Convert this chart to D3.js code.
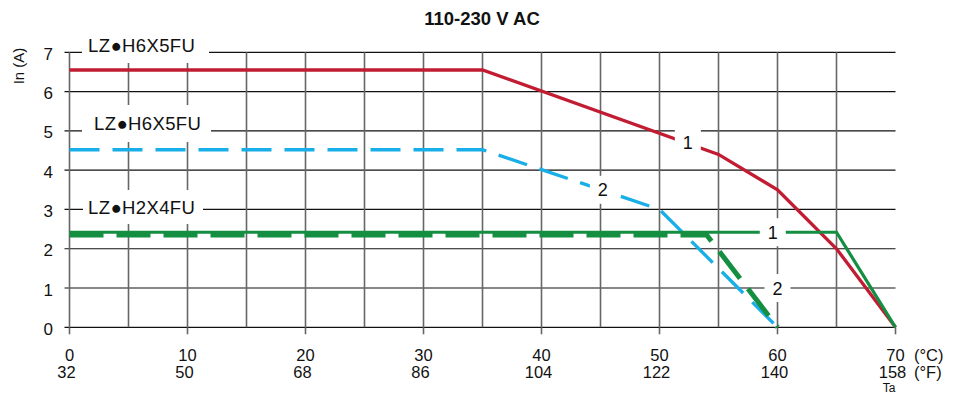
<!DOCTYPE html>
<html>
<head>
<meta charset="utf-8">
<script src="https://cdn.jsdelivr.net/npm/d3@7"></script>
<style>
  body { margin: 0; background: #fff; }
  text { font-family: "Liberation Sans", Arial, sans-serif; fill: #111; }
</style>
</head>
<body>
<div id="chart"></div>
<script>
// ---- data ----
var tempC = [0, 10, 20, 30, 40, 50, 60, 70];
var tempF = [32, 50, 68, 86, 104, 122, 140, 158];
var currentTicks = [0, 1, 2, 3, 4, 5, 6, 7];

// LZ●H6X5FU, mounting 1 (red) and 2 (blue dashed)
var h6Pos1 = [[0, 6.55], [35, 6.55], [55, 4.4], [60, 3.5], [65, 2.0], [70, 0]];
var h6Pos2 = [[0, 4.52], [35, 4.52], [50, 3.0], [60, 0]];
// LZ●H2X4FU, mounting 1 (green) and 2 (green dashed)
var h2Pos1 = [[0, 2.42], [65, 2.42], [70, 0]];
var h2Pos2 = [[0, 2.35], [54, 2.35], [60, 0]];

var modelNames = ["LZ\u25CFH6X5FU", "LZ\u25CFH6X5FU", "LZ\u25CFH2X4FU"];
var modelLevels = [7, 5, 3];

var curveTags = ["1", "2", "1", "2"];
var curveTagPos = [[52.4, 4.7], [45.2, 3.5], [59.6, 2.42], [60, 1.0]];

function init() {
    var w = 958, h = 396;

    var x = d3.scaleLinear().domain([0, 70]).range([69.5, 895.5]);
    var y = d3.scaleLinear().domain([0, 7]).range([327.3, 52.3]);

    var svg = d3.select("#chart").append("svg")
        .attr("width", w).attr("height", h);

    svg.append("rect").attr("width", w).attr("height", h).attr("fill", "#fff");

    // title
    svg.append("text")
        .attr("x", 482).attr("y", 25)
        .attr("text-anchor", "middle")
        .attr("font-size", "18.5px").attr("font-weight", "bold")
        .text("110-230 V AC");

    // horizontal grid (black, with small tick to the left)
    svg.append("g").selectAll("line")
        .data(currentTicks).enter().append("line")
        .attr("x1", x(0) - 5).attr("x2", x(70))
        .attr("y1", function (d) { return y(d); })
        .attr("y2", function (d) { return y(d); })
        .attr("stroke", "#111").attr("stroke-width", 1.2);

    // vertical grid every 5 °C (gray)
    svg.append("g").selectAll("line")
        .data(d3.range(0, 70, 5)).enter().append("line")
        .attr("x1", function (d) { return x(d); })
        .attr("x2", function (d) { return x(d); })
        .attr("y1", y(7)).attr("y2", y(0))
        .attr("stroke", "#666").attr("stroke-width", 1.6);

    // bottom ticks every 10 °C
    svg.append("g").selectAll("line")
        .data(tempC).enter().append("line")
        .attr("x1", function (d) { return x(d); })
        .attr("x2", function (d) { return x(d); })
        .attr("y1", y(0)).attr("y2", y(0) + 7)
        .attr("stroke", "#666").attr("stroke-width", 1.6);

    // y tick labels
    svg.append("g").selectAll("text")
        .data(currentTicks).enter().append("text")
        .attr("x", 53)
        .attr("y", function (d) { return y(d) + 7.5; })
        .attr("text-anchor", "end")
        .attr("font-size", "17px")
        .text(function (d) { return d; });

    // x tick labels, °C over °F
    svg.append("g").selectAll("text")
        .data(tempC).enter().append("text")
        .attr("x", function (d) { return x(d); })
        .attr("y", 360.5)
        .attr("text-anchor", "middle")
        .attr("font-size", "16.5px")
        .text(function (d) { return d; });

    svg.append("g").selectAll("text")
        .data(tempF).enter().append("text")
        .attr("x", function (d, i) { return x(tempC[i]) - 3; })
        .attr("y", 378)
        .attr("text-anchor", "middle")
        .attr("font-size", "16.5px")
        .text(function (d) { return d; });

    svg.append("text").attr("x", 914).attr("y", 360.5)
        .attr("font-size", "16.5px").text("(\u00B0C)");
    svg.append("text").attr("x", 914).attr("y", 378)
        .attr("font-size", "16.5px").text("(\u00B0F)");
    svg.append("text").attr("x", 889).attr("y", 392)
        .attr("text-anchor", "middle")
        .attr("font-size", "12px").text("Ta");

    // y axis title
    svg.append("text")
        .attr("transform", "translate(24,66) rotate(-90)")
        .attr("text-anchor", "middle")
        .attr("font-size", "15px")
        .text("In (A)");

    // model labels sit on white boxes that cut the grid
    var boxes = [[82, 40, 127, 23], [82, 105, 129, 37], [83, 190, 120, 34]];
    var textOff = [[88, 0], [94, -1], [88, 5]];
    modelNames.forEach(function (name, i) {
        svg.append("rect")
            .attr("x", boxes[i][0]).attr("y", boxes[i][1])
            .attr("width", boxes[i][2]).attr("height", boxes[i][3])
            .attr("fill", "#fff");
        svg.append("text")
            .attr("x", textOff[i][0])
            .attr("y", y(modelLevels[i]) + textOff[i][1])
            .attr("font-size", "18.5px")
            .attr("letter-spacing", "0.4px")
            .text(name);
    });

    var line = d3.line()
        .x(function (d) { return x(d[0]); })
        .y(function (d) { return y(d[1]); });

    svg.append("path").datum(h6Pos1)
        .attr("d", line).attr("fill", "none")
        .attr("stroke", "#c21c33").attr("stroke-width", 3.3);

    svg.append("path").datum(h6Pos2)
        .attr("d", line).attr("fill", "none")
        .attr("stroke", "#18afe8").attr("stroke-width", 3.3)
        .attr("stroke-dasharray", "30,13");

    svg.append("path").datum(h2Pos2)
        .attr("d", line).attr("fill", "none")
        .attr("stroke", "#148f42").attr("stroke-width", 5)
        .attr("stroke-dasharray", "34,13");

    svg.append("path").datum(h2Pos1)
        .attr("d", line).attr("fill", "none")
        .attr("stroke", "#148f42").attr("stroke-width", 3.2);

    // curve numbers with white gaps
    curveTags.forEach(function (t, i) {
        var cx = x(curveTagPos[i][0]), cy = y(curveTagPos[i][1]);
        svg.append("rect")
            .attr("x", cx - 13).attr("y", cy - 14)
            .attr("width", 26).attr("height", 28)
            .attr("fill", "#fff");
        svg.append("text")
            .attr("x", cx).attr("y", cy + 6.5)
            .attr("text-anchor", "middle")
            .attr("font-size", "18px")
            .text(t);
    });
}

window.onload = init;
</script>
</body>
</html>
